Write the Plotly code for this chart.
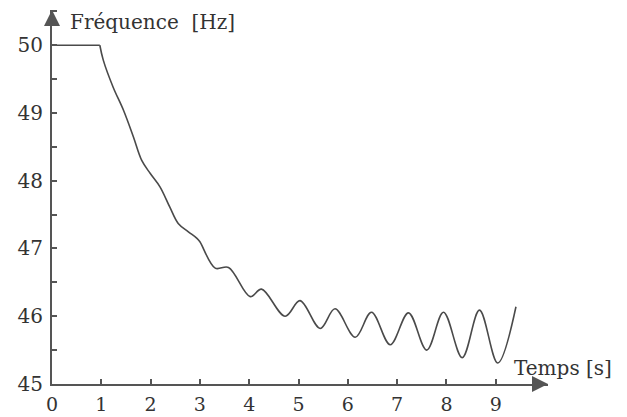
import plotly.graph_objects as go

# Time [s] and frequency [Hz]
temps = [0.0, 0.5, 0.97, 1.04, 1.24, 1.45, 1.65, 1.82, 1.99, 2.19, 2.39, 2.56, 2.76, 2.94, 3.0,
         3.31, 3.58, 4.02, 4.25, 4.73, 5.03, 5.44, 5.74, 6.15, 6.48, 6.86, 7.23, 7.60,
         7.94, 8.32, 8.67, 9.04, 9.41]
frequence = [50.0, 50.0, 50.0, 49.78, 49.38, 49.04, 48.65, 48.30, 48.11, 47.91, 47.61, 47.37, 47.25, 47.15, 47.10,
             46.71, 46.72, 46.29, 46.40, 46.00, 46.23, 45.82, 46.11, 45.69, 46.06, 45.58, 46.05, 45.50,
             46.06, 45.39, 46.09, 45.31, 46.14]

x_ticks = [0, 1, 2, 3, 4, 5, 6, 7, 8, 9]
y_ticks = [45, 46, 47, 48, 49, 50]

X_MAX = 10.06
Y_MAX = 50.52
AX_COL = "#555555"
LINE_COL = "#4a4a4a"
FONT = dict(family="DejaVu Serif, Liberation Serif, serif", size=20, color="#333333")
TICK_FONT = dict(family="DejaVu Serif, Liberation Serif, serif", size=19, color="#333333")

# flat pre-disturbance part (straight) and the dynamic part (smoothed)
n_flat = 3
fig = go.Figure()
fig.add_trace(go.Scatter(x=temps[:n_flat], y=frequence[:n_flat], mode="lines",
                         line=dict(color=LINE_COL, width=1.6),
                         hoverinfo="skip", showlegend=False))
fig.add_trace(go.Scatter(x=temps[n_flat - 1:], y=frequence[n_flat - 1:], mode="lines",
                         line=dict(color=LINE_COL, width=1.6, shape="spline", smoothing=1.0),
                         hoverinfo="skip", showlegend=False))

fig.update_layout(
    width=627, height=417,
    margin=dict(l=52, r=79, t=10, b=33, autoexpand=False),
    paper_bgcolor="white", plot_bgcolor="white",
    font=FONT,
    xaxis=dict(range=[0, X_MAX], tickvals=x_ticks, ticktext=[str(v) for v in x_ticks],
               showgrid=False, zeroline=False, showline=True, linecolor=AX_COL, linewidth=2,
               ticks="inside", ticklen=5, tickwidth=1.5, tickcolor=AX_COL, automargin=False,
               tickfont=TICK_FONT, ticklabelstandoff=2),
    yaxis=dict(range=[45, Y_MAX], tickvals=y_ticks, ticktext=[str(v) for v in y_ticks],
               showgrid=False, zeroline=False, showline=True, linecolor=AX_COL, linewidth=2,
               ticks="inside", ticklen=5, tickwidth=1.5, tickcolor=AX_COL, automargin=False,
               minor=dict(dtick=0.5, ticks="inside", ticklen=5, tickwidth=1.5, tickcolor=AX_COL),
               tickfont=FONT, ticklabelstandoff=3),
)

# axis arrowheads
fig.add_annotation(x=X_MAX, y=45, xref="x", yref="y", ax=-14, ay=0, axref="pixel", ayref="pixel",
                   text="", showarrow=True, arrowhead=2, arrowsize=1.6, arrowwidth=2, arrowcolor=AX_COL)
fig.add_annotation(x=0, y=Y_MAX, xref="x", yref="y", ax=0, ay=14, axref="pixel", ayref="pixel",
                   text="", showarrow=True, arrowhead=2, arrowsize=1.6, arrowwidth=2, arrowcolor=AX_COL)

# axis titles
fig.add_annotation(x=0.032, y=0.968, xref="paper", yref="paper", xanchor="left", yanchor="middle",
                   text="Fréquence  [Hz]", showarrow=False, font=FONT)
fig.add_annotation(x=0.927, y=0.043, xref="paper", yref="paper", xanchor="left", yanchor="middle",
                   text="Temps [s]", showarrow=False, font=FONT)

fig.write_html("out.html")
